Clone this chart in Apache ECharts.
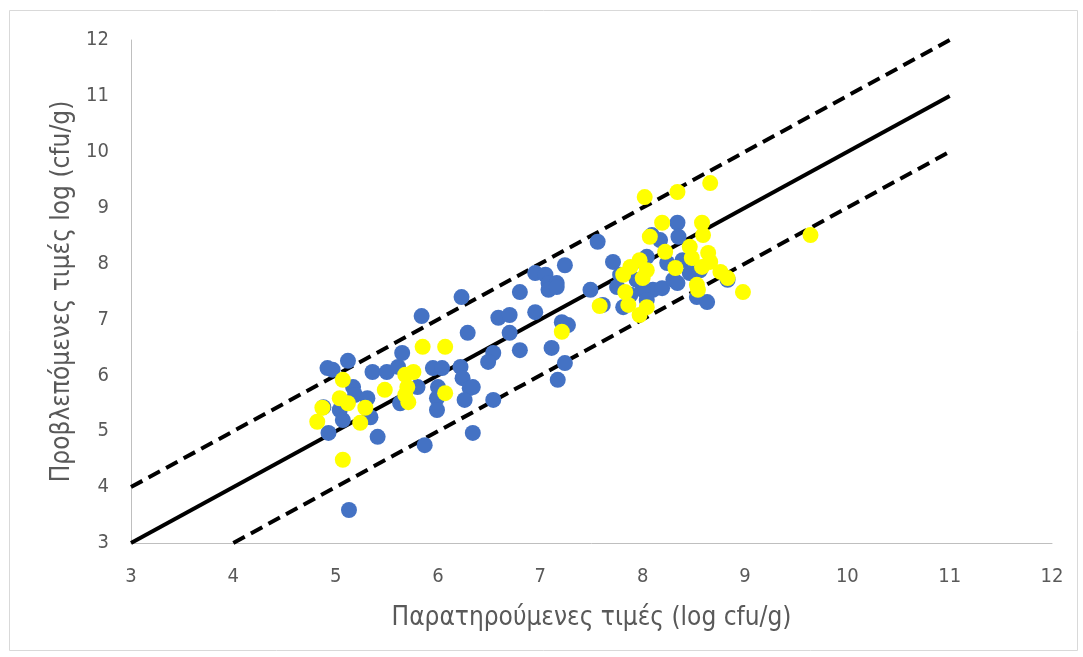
<!DOCTYPE html>
<html>
<head>
<meta charset="utf-8">
<script src="https://cdn.jsdelivr.net/npm/echarts@6/dist/echarts.min.js"></script>
<style>
html,body{margin:0;padding:0;background:#fff;}
#chart{width:1083px;height:657px;}
</style>
</head>
<body>
<div id="chart"></div>
<script>
// Blue series: observed (x) and predicted (y)
const blueX = [4.92,4.97,5.12,5.17,5.19,5.36,5.50,5.61,5.65,4.88,5.04,5.07,4.93,5.41,5.87,5.95,6.04,6.00,5.99,5.99,5.63,5.34,5.31,6.22,6.23,5.84,6.59,6.70,6.95,6.29,6.70,6.54,6.49,6.80,5.80,6.24,6.31,6.26,6.54,6.34,5.13,7.24,6.95,7.05,7.08,7.16,7.08,7.16,6.80,7.49,7.21,7.27,7.11,7.24,7.17,6.34,7.56,7.71,7.75,7.78,8.04,8.17,8.10,8.19,8.00,7.81,8.04,8.09,8.34,8.35,8.24,8.39,8.46,8.30,8.34,8.53,8.63,8.83,7.61,7.94,7.88,8.56];
const blueY = [6.13,6.10,6.26,5.79,5.65,6.06,6.06,6.15,6.40,5.43,5.38,5.20,4.97,4.90,4.75,6.13,6.13,5.79,5.59,5.38,5.50,5.25,5.59,6.15,7.40,7.06,7.03,7.08,7.13,6.76,6.76,6.40,6.24,6.45,5.79,5.95,5.77,5.56,5.56,4.97,3.59,7.97,7.83,7.80,7.65,7.65,7.53,7.58,7.49,7.53,6.95,6.90,6.49,6.22,5.92,5.79,8.39,8.03,7.58,7.80,8.12,8.42,7.53,7.56,7.53,7.22,7.35,8.51,8.73,8.48,8.01,8.06,7.83,7.71,7.65,7.40,7.31,7.71,7.26,7.71,7.44,7.88];
// Yellow series
const yellowX = [5.85,6.07,5.07,5.04,5.12,4.87,4.82,5.29,5.24,5.48,5.68,5.76,5.70,5.68,5.71,6.07,5.07,7.58,7.21,8.07,7.97,7.88,7.81,8.04,7.83,7.86,7.97,8.04,8.22,8.34,8.66,8.02,8.19,8.58,8.59,8.46,8.48,8.64,8.66,8.58,8.32,8.76,8.83,8.98,8.53,8.54,8.00,9.64];
const yellowY = [6.51,6.51,5.92,5.59,5.50,5.42,5.17,5.42,5.15,5.74,6.01,6.06,5.79,5.65,5.52,5.68,4.49,7.24,6.78,8.48,8.06,7.94,7.80,7.88,7.49,7.26,7.08,7.22,8.21,9.28,9.44,9.19,8.73,8.73,8.51,8.30,8.10,8.19,8.03,7.94,7.92,7.85,7.74,7.49,7.62,7.53,7.74,8.51];
// Reference lines (y = x, y = x + 1, y = x - 1)
const lineX = [3, 11];
const lineMid = [3, 11];
const lineUpper = [4, 12];
const lowerX = [4, 11];
const lineLower = [3, 10];
// Axis ticks
const xTicks = [3,4,5,6,7,8,9,10,11,12];
const yTicks = [3,4,5,6,7,8,9,10,11,12];

const pairs = (xs, ys) => xs.map((x, i) => [x, ys[i]]);
const FONT = "'DejaVu Sans Condensed', sans-serif";

const chart = echarts.init(document.getElementById('chart'));
chart.setOption({
  animation: false,
  backgroundColor: '#ffffff',
  graphic: [{
    type: 'rect', left: 7, top: 8, z: -10,
    shape: {width: 1068, height: 640},
    style: {fill: 'none', stroke: '#d9d9d9', lineWidth: 1}
  }],
  grid: {left: 131, right: 31, top: 40, bottom: 114},
  xAxis: {
    type: 'value', min: xTicks[0], max: xTicks[xTicks.length - 1], interval: 1,
    name: 'Παρατηρούμενες τιμές (log cfu/g)', nameLocation: 'middle', nameGap: 62,
    nameTextStyle: {fontFamily: FONT, fontSize: 26, color: '#595959'},
    axisLine: {lineStyle: {color: '#bfbfbf', width: 1}},
    axisTick: {show: false},
    splitLine: {show: false},
    axisLabel: {fontFamily: FONT, fontSize: 20, color: '#595959', margin: 24}
  },
  yAxis: {
    type: 'value', min: yTicks[0], max: yTicks[yTicks.length - 1], interval: 1,
    name: 'Προβλεπόμενες τιμές log (cfu/g)', nameLocation: 'middle', nameGap: 53,
    nameTextStyle: {fontFamily: FONT, fontSize: 26, color: '#595959'},
    axisLine: {show: true, lineStyle: {color: '#bfbfbf', width: 1}},
    axisTick: {show: false},
    splitLine: {show: false},
    axisLabel: {fontFamily: FONT, fontSize: 20, color: '#595959', margin: 22}
  },
  series: [
    {type: 'line', data: pairs(lineX, lineMid), symbol: 'none', z: 1,
     lineStyle: {color: '#000', width: 4}},
    {type: 'line', data: pairs(lineX, lineUpper), symbol: 'none', z: 1,
     lineStyle: {color: '#000', width: 4, type: [13, 7]}},
    {type: 'line', data: pairs(lowerX, lineLower), symbol: 'none', z: 1,
     lineStyle: {color: '#000', width: 4, type: [13, 7]}},
    {type: 'scatter', data: pairs(blueX, blueY), symbolSize: 16, z: 2,
     itemStyle: {color: '#4472c4', opacity: 1}},
    {type: 'scatter', data: pairs(yellowX, yellowY), symbolSize: 16, z: 3,
     itemStyle: {color: '#ffff00', opacity: 1}}
  ]
});
</script>
</body>
</html>
